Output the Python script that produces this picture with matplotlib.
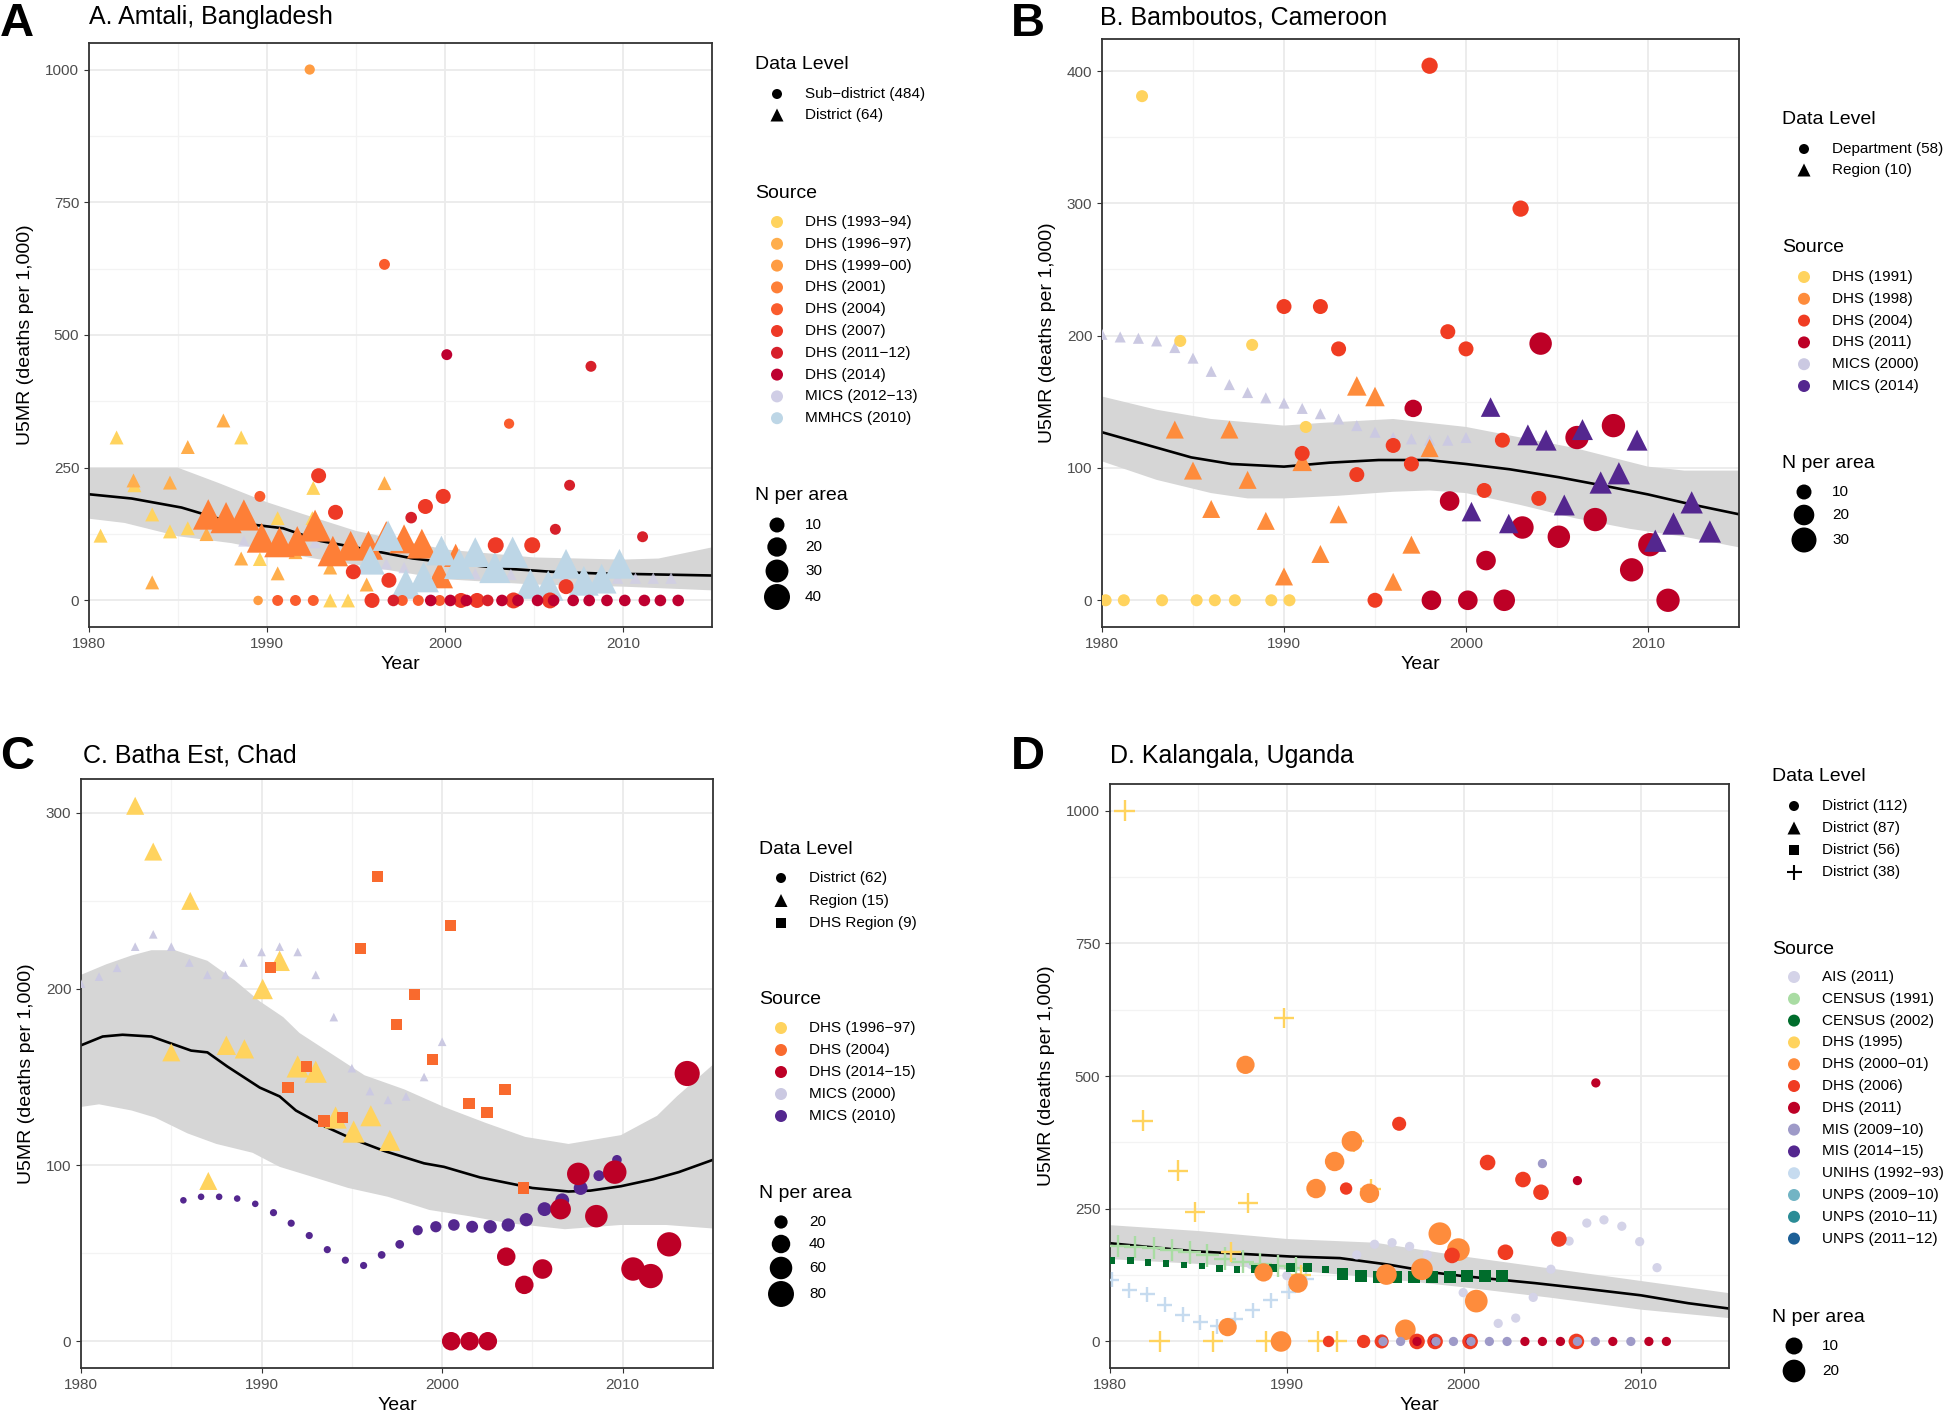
import matplotlib
matplotlib.use("Agg")
import matplotlib.pyplot as plt
import numpy as np

plt.rcParams["font.family"] = ["Liberation Sans", "DejaVu Sans"]

W, H, DPI = 1945, 1414, 100
D = "\u2212"  # R draws the "-" in "1993-94" as a long dash

# ------------------------------------------------------------------
# data: every point is (year, U5MR, N per area)
# ------------------------------------------------------------------

# A. Amtali, Bangladesh
A_DHS9394_TRI = [(1980.65, 122, 4), (1981.55, 307, 4), (1982.55, 217, 4), (1983.55, 162, 4),
                 (1984.55, 130, 4), (1985.55, 136, 4), (1988.55, 307, 4), (1989.6, 78, 4),
                 (1990.6, 155, 4), (1992.6, 212, 4), (1992.55, 155, 4), (1993.55, 0, 4),
                 (1994.55, 0, 4)]
A_DHS9697_TRI = [(1982.5, 226, 4), (1983.55, 34, 4), (1984.55, 222, 4), (1985.55, 289, 4),
                 (1986.6, 125, 4), (1987.55, 339, 4), (1988.55, 79, 4), (1990.6, 51, 4),
                 (1991.6, 91, 4), (1993.55, 62, 4), (1995.6, 30, 4), (1996.6, 221, 4)]
A_MICS_TRI = [(1988.7, 112, 1), (1989.7, 117, 1), (1990.7, 117, 1), (1991.7, 117, 1),
              (1992.7, 109, 1), (1993.7, 103, 1), (1994.7, 96, 1), (1996.7, 69, 1),
              (1997.7, 62, 1), (1999.7, 55, 1), (2001.7, 50, 1), (2003.7, 49, 1),
              (2006.7, 44, 1), (2009.7, 42, 1), (2010.7, 42, 1), (2011.7, 42, 1), (2012.7, 42, 1)]
A_DHS2001_TRI = [(1986.7, 162, 38), (1987.7, 156, 40), (1988.7, 161, 40), (1989.7, 118, 36),
                 (1990.7, 110, 38), (1991.7, 112, 36), (1992.7, 141, 42), (1993.7, 93, 38),
                 (1994.7, 103, 36), (1995.7, 104, 34), (1996.7, 122, 34), (1997.7, 116, 34),
                 (1998.7, 107, 36), (1999.7, 48, 28), (2000.6, 85, 20)]
A_MMHCS_TRI = [(1995.8, 76, 34), (1996.8, 122, 38), (1997.8, 31, 36), (1998.8, 44, 38),
               (1999.8, 94, 36), (2000.8, 69, 38), (2001.7, 91, 36), (2002.8, 62, 40),
               (2003.8, 91, 40), (2004.8, 31, 36), (2005.8, 28, 38), (2006.8, 69, 36),
               (2007.8, 37, 36), (2008.8, 41, 36), (2009.8, 69, 36)]
A_DHS9900_CIR = [(1992.4, 1000, 2), (1989.5, 0, 1)]
A_DHS2004_CIR = [(1996.6, 633, 3), (2003.6, 333, 2), (1989.6, 196, 3), (1990.6, 0, 3),
                 (1991.6, 0, 3), (1992.6, 0, 3), (1997.6, 0, 3), (1998.5, 0, 3), (1999.7, 0, 3)]
A_DHS2007_CIR = [(1992.9, 235, 10), (1993.85, 166, 10), (1994.85, 54, 10), (1996.85, 38, 10),
                 (1998.9, 177, 10), (1999.9, 196, 10), (2002.85, 104, 12), (2004.9, 104, 12),
                 (2006.8, 26, 10), (1995.9, 0, 10), (2000.9, 0, 10), (2001.8, 0, 10),
                 (2003.85, 0, 12), (2005.9, 0, 12)]
A_DHS1112_CIR = [(2008.2, 441, 3), (2007.0, 217, 3), (2011.1, 120, 3), (2006.2, 134, 3),
                 (1998.1, 156, 4), (1997.1, 0, 4), (2002.4, 0, 4)]
A_DHS2014_CIR = [(2000.1, 463, 3), (1999.2, 0, 4), (2000.3, 0, 4), (2001.2, 0, 4),
                 (2003.2, 0, 4), (2004.1, 0, 4), (2005.2, 0, 4), (2006.1, 0, 4), (2007.2, 0, 4),
                 (2008.1, 0, 4), (2009.1, 0, 4), (2010.1, 0, 4), (2011.2, 0, 4), (2012.1, 0, 4),
                 (2013.1, 0, 4)]
A_FIT_YEAR = [1980, 1982.4, 1985.2, 1987.3, 1989.4, 1990.9, 1993, 1995.6, 1998.2, 2000.8,
              2003.4, 2006, 2008.5, 2011.1, 2015]
A_FIT = [200, 192, 175, 154, 142, 136, 112, 96, 79, 69, 60, 54, 51, 49.5, 47]
A_UP_YEAR = [1980, 1985, 1987.3, 1990, 1992, 1995, 2000, 2005, 2010, 2012, 2015]
A_UP = [250, 250, 221, 185, 163, 131, 96, 81, 77, 79, 100]
A_LO_YEAR = [1980, 1982, 1985, 1988, 1990, 1993, 1995, 2000, 2005, 2010, 2015]
A_LO = [154, 146, 121, 108, 95, 77, 67, 40, 30, 26, 19]
A_LEVELS = [f"Sub{D}district (484)", "District (64)"]
A_SOURCES = [f"DHS (1993{D}94)", f"DHS (1996{D}97)", f"DHS (1999{D}00)", "DHS (2001)",
             "DHS (2004)", "DHS (2007)", f"DHS (2011{D}12)", "DHS (2014)",
             f"MICS (2012{D}13)", "MMHCS (2010)"]
A_N = [10, 20, 30, 40]

# B. Bamboutos, Cameroon
B_DHS1991_CIR = [(1980.2, 0, 6), (1981.2, 0, 6), (1983.3, 0, 6), (1985.2, 0, 6), (1986.2, 0, 6),
                 (1987.3, 0, 6), (1989.3, 0, 6), (1990.3, 0, 6), (1982.2, 381, 6),
                 (1984.3, 196, 6), (1988.25, 193, 6), (1991.2, 131, 6)]
B_MICS2000_TRI = [(1980, 201, 3), (1981, 199, 3), (1982, 198, 3), (1983, 196, 3), (1984, 191, 3),
                  (1985, 183, 3), (1986, 173, 3), (1987, 163, 3), (1988, 157, 3), (1989, 153, 3),
                  (1990, 149, 3), (1991, 145, 3), (1992, 141, 3), (1993, 137, 3), (1994, 132, 3),
                  (1995, 127, 3), (1996, 123, 3), (1997, 122, 3), (1998, 121, 3), (1999, 121, 3),
                  (2000, 123, 3)]
B_DHS1998_TRI = [(1984.0, 129, 10), (1985.0, 98, 10), (1986.0, 69, 10), (1987.0, 129, 10),
                 (1988.0, 91, 10), (1989.0, 60, 10), (1990.0, 18, 10), (1991.0, 105, 12),
                 (1992.0, 35, 10), (1993.0, 65, 10), (1994.0, 162, 12), (1995.0, 154, 12),
                 (1996.0, 14, 10), (1997.0, 42, 10), (1998.0, 115, 10)]
B_DHS2004_CIR = [(1990.0, 222, 10), (1991.0, 111, 10), (1992.0, 222, 10), (1993.0, 190, 10),
                 (1994.0, 95, 10), (1995.0, 0, 10), (1996.0, 117, 10), (1997.0, 103, 10),
                 (1998.0, 404, 12), (1999.0, 203, 10), (2000.0, 190, 10), (2001.0, 83, 10),
                 (2002.0, 121, 10), (2003.0, 296, 12), (2004.0, 77, 10)]
B_DHS2011_CIR = [(1997.1, 145, 14), (1998.1, 0, 18), (1999.1, 75, 18), (2000.1, 0, 18),
                 (2001.1, 30, 18), (2002.1, 0, 22), (2003.1, 55, 24), (2004.1, 194, 24),
                 (2005.1, 48, 24), (2006.1, 123, 26), (2007.1, 61, 26), (2008.1, 132, 26),
                 (2009.1, 23, 26), (2010.1, 42, 26), (2011.1, 0, 26)]
B_MICS2014_TRI = [(2000.3, 67, 12), (2001.35, 146, 12), (2002.35, 58, 12), (2003.4, 125, 14),
                  (2004.4, 121, 14), (2005.4, 72, 14), (2006.4, 129, 14), (2007.4, 89, 16),
                  (2008.4, 96, 16), (2009.4, 121, 14), (2010.4, 45, 16), (2011.4, 58, 16),
                  (2012.4, 74, 16), (2013.4, 52, 16)]
B_FIT_YEAR = [1980, 1984.9, 1987.1, 1990, 1992.5, 1995.2, 1997.9, 2000, 2002.4, 2005.1,
              2007.8, 2010, 2012.2, 2015]
B_FIT = [127, 108, 103, 101, 104, 106, 106, 103, 99, 93, 86, 80, 73, 65]
B_UP_YEAR = [1980, 1983, 1986, 1990, 1992, 1996, 1998, 2000, 2003, 2006, 2008, 2010, 2012, 2015]
B_UP = [154, 144, 137, 132, 134, 137, 134, 131, 123, 115, 108, 101, 98, 98]
B_LO_YEAR = [1980, 1983, 1986, 1988, 1990, 1993, 1996, 1998, 2000, 2003, 2006, 2009, 2012, 2015]
B_LO = [105, 91, 81, 77, 77, 79, 82, 83, 81, 72, 62, 54, 48, 40]
B_LEVELS = ["Department (58)", "Region (10)"]
B_SOURCES = ["DHS (1991)", "DHS (1998)", "DHS (2004)", "DHS (2011)", "MICS (2000)", "MICS (2014)"]
B_N = [10, 20, 30]

# C. Batha Est, Chad
C_MICS2000_TRI = [(1980, 203, 5), (1981, 207, 5), (1982, 212, 5), (1983, 224, 5), (1984, 231, 5),
                  (1985, 224, 5), (1986, 215, 5), (1987, 208, 5), (1988, 208, 5), (1989, 215, 5),
                  (1990, 221, 5), (1991, 224, 5), (1992, 221, 5), (1993, 208, 5), (1994, 184, 5),
                  (1995, 155, 5), (1996, 142, 5), (1997, 137, 5), (1998, 139, 5), (1999, 150, 5),
                  (2000, 170, 5)]
C_DHS9697_TRI = [(1983.0, 304, 26), (1984.0, 278, 26), (1985.0, 164, 26), (1986.05, 250, 26),
                 (1987.05, 91, 26), (1988.05, 168, 30), (1989.05, 166, 30), (1990.06, 200, 34),
                 (1991.0, 216, 34), (1992.0, 156, 40), (1993.0, 153, 40), (1994.1, 127, 40),
                 (1995.1, 119, 40), (1996.05, 128, 36), (1997.1, 114, 36)]
C_DHS2004_SQ = [(1990.48, 212, 20), (1991.46, 144, 20), (1992.48, 156, 20), (1993.46, 125, 20),
                (1994.47, 127, 20), (1995.46, 223, 20), (1996.43, 264, 20), (1997.47, 180, 20),
                (1998.47, 197, 20), (1999.47, 160, 20), (2000.46, 236, 20), (2001.48, 135, 20),
                (2002.48, 130, 20), (2003.48, 143, 20), (2004.49, 87, 20)]
C_MICS2010_CIR = [(1985.67, 80, 4), (1986.65, 82, 4), (1987.65, 82, 4), (1988.65, 81, 4),
                  (1989.65, 78, 4), (1990.66, 73, 5), (1991.64, 67, 5), (1992.64, 60, 5),
                  (1993.64, 52, 5), (1994.64, 46, 5), (1995.65, 43, 5), (1996.65, 49, 6),
                  (1997.65, 55, 8), (1998.65, 63, 11), (1999.65, 65, 14), (2000.65, 66, 15),
                  (2001.66, 65, 16), (2002.66, 65, 20), (2003.66, 66, 20), (2004.66, 69, 20),
                  (2005.67, 75, 22), (2006.65, 80, 22), (2007.67, 87, 22), (2008.68, 94, 13),
                  (2009.68, 103, 10)]
C_DHS1415_CIR = [(2000.5, 0, 40), (2001.52, 0, 40), (2002.53, 0, 40), (2003.55, 48, 40),
                 (2004.55, 32, 40), (2005.56, 41, 45), (2006.56, 75, 50), (2007.54, 95, 60),
                 (2008.54, 71, 60), (2009.56, 96, 65), (2010.57, 41, 65), (2011.55, 37, 70),
                 (2012.57, 55, 70), (2013.57, 152, 75)]
C_FIT_YEAR = [1980, 1981.2, 1982.3, 1983.9, 1985, 1986.1, 1987, 1988.1, 1989.9, 1991, 1991.9,
              1993.5, 1995, 1996.8, 1999, 2000.1, 2002.1, 2005, 2007, 2008.2, 2009.9, 2011.7,
              2013.1, 2015]
C_FIT = [168, 173, 174, 173, 169, 165, 164, 156, 144, 139, 131, 122, 115, 108, 101, 99, 93,
         87, 85, 85.5, 88, 92, 96, 103]
C_UP_YEAR = [1980, 1981.4, 1982.8, 1983.9, 1985.2, 1987, 1988.5, 1989.9, 1991.2, 1992.1, 1993.9,
             1995.7, 1997.9, 2000.1, 2002.4, 2004.6, 2007, 2009.9, 2011.9, 2013, 2015]
C_UP = [208, 214, 219, 222, 222, 216, 205, 193, 184, 175, 163, 151, 143, 133, 124, 116, 112,
        117, 128, 139, 157]
C_LO_YEAR = [1980, 1981, 1982.8, 1984.1, 1985.9, 1987.5, 1989.5, 1991, 1992.6, 1994.8, 1997,
             1999.3, 2001.5, 2003.7, 2006.8, 2009.9, 2012.4, 2015]
C_LO = [133, 134.5, 131, 127, 118, 112, 107, 99, 94, 87, 82, 74.5, 71, 67, 63.6, 66, 66, 64]
C_LEVELS = ["District (62)", "Region (15)", "DHS Region (9)"]
C_SOURCES = [f"DHS (1996{D}97)", "DHS (2004)", f"DHS (2014{D}15)", "MICS (2000)", "MICS (2010)"]
C_N = [20, 40, 60, 80]

# D. Kalangala, Uganda
D_AIS2011_CIR = [(1987.97, 145, 1), (1990.0, 124, 1), (1993.95, 163, 1), (1994.96, 183, 1),
                 (1995.95, 186, 1), (1996.94, 179, 1), (1997.94, 163, 1), (1999.97, 92, 1),
                 (2001.95, 34, 1), (2002.94, 44, 1), (2003.93, 83, 1), (2004.93, 136, 1),
                 (2005.96, 189, 1), (2006.96, 223, 1), (2007.93, 229, 1), (2008.94, 217, 1),
                 (2009.95, 188, 1), (2010.93, 139, 1)]
D_CENSUS1991_CROSS = [(1980.47, 180, 8), (1981.43, 178, 8), (1982.47, 176, 8), (1983.49, 172, 8),
                      (1984.5, 168, 8), (1985.5, 162, 8), (1986.5, 156, 8), (1987.5, 150, 8),
                      (1988.5, 146, 8), (1989.5, 142, 8), (1990.5, 138, 8)]
D_UNIHS_CROSS = [(1980.1, 116, 2), (1981.1, 96, 2), (1982.1, 89, 2), (1983.1, 69, 2),
                 (1984.1, 50, 2), (1985.1, 36, 2), (1986.06, 29, 2), (1987.07, 42, 2),
                 (1988.08, 59, 2), (1989.1, 78, 2), (1990.1, 94, 2), (1991.1, 117, 2)]
D_CENSUS2002_SQ = [(1980.12, 153, 0), (1981.16, 152, 0), (1982.15, 149, 0), (1983.17, 147, 0),
                   (1984.18, 144, 0), (1985.2, 142, 0), (1986.2, 138, 0), (1987.18, 136, 0),
                   (1988.2, 137, 1), (1989.2, 138, 1), (1990.2, 139, 2), (1991.17, 139, 2),
                   (1992.2, 136, 0), (1993.16, 127, 5), (1994.17, 123, 6), (1995.19, 122, 6),
                   (1996.2, 122, 6), (1997.2, 122, 6), (1998.18, 122, 6), (1999.2, 122, 6),
                   (2000.19, 123, 6), (2001.2, 123, 6), (2002.18, 124, 6)]
D_DHS1995_CROSS = [(1980.82, 1000, 6), (1989.84, 609, 6), (1981.84, 416, 6), (1983.85, 322, 6),
                   (1984.8, 244, 6), (1987.8, 261, 6), (1986.84, 168, 6), (1993.79, 377, 6),
                   (1994.74, 287, 6), (1990.8, 125, 6), (1982.8, 0, 6), (1985.82, 0, 6),
                   (1988.82, 0, 6), (1991.75, 0, 6), (1992.85, 0, 6)]
D_DHS2000_CIR = [(1987.66, 521, 12), (1992.7, 339, 14), (1991.65, 288, 14), (1993.68, 377, 16),
                 (1994.67, 279, 14), (1998.65, 203, 20), (1999.7, 173, 20), (2000.71, 76, 20),
                 (1996.7, 22, 16), (1997.64, 136, 18), (1995.63, 126, 16), (1988.68, 130, 12),
                 (1990.63, 110, 14), (1986.65, 27, 12), (1989.67, 0, 16)]
D_DHS2006_CIR = [(1996.35, 410, 6), (1993.35, 288, 4), (2001.35, 337, 8), (2003.35, 305, 8),
                 (2004.37, 281, 8), (2005.38, 193, 8), (2002.36, 168, 8), (1999.34, 162, 8),
                 (1992.36, 0, 3), (1994.34, 0, 5), (1995.36, 0, 6), (1997.36, 0, 8),
                 (1998.38, 0, 8), (2000.36, 0, 8), (2006.37, 0, 8)]
D_DHS2011_CIR = [(2007.47, 487, 1), (2006.43, 303, 1), (1997.36, 0, 1), (1998.38, 0, 1),
                 (2000.36, 0, 1), (2003.46, 0, 1), (2004.45, 0, 1), (2005.47, 0, 1),
                 (2008.43, 0, 1), (2010.47, 0, 1), (2011.46, 0, 1)]
D_MIS0910_CIR = [(2004.45, 335, 1), (1995.44, 0, 1), (1996.43, 0, 1), (1998.43, 0, 1),
                 (1999.42, 0, 1), (2000.41, 0, 1), (2001.45, 0, 1), (2002.45, 0, 1),
                 (2006.43, 0, 1), (2007.44, 0, 1), (2009.45, 0, 1)]
D_FIT_YEAR = [1980, 1984.7, 1990.2, 1993, 1995.7, 1998.5, 2000, 2004, 2006.7, 2010, 2012.7, 2015]
D_FIT = [185, 170, 160, 157, 145, 129, 123, 110, 100, 87, 72, 62]
D_BAND_YEAR = [1980, 1985, 1990, 1995, 2000, 2005, 2010, 2015]
D_UP = [219, 208, 193, 186, 160, 137, 114, 91]
D_LO = [155, 146, 135, 120, 102, 82, 60, 44]
D_LEVELS = ["District (112)", "District (87)", "District (56)", "District (38)"]
D_SOURCES = ["AIS (2011)", "CENSUS (1991)", "CENSUS (2002)", "DHS (1995)", f"DHS (2000{D}01)",
             "DHS (2006)", "DHS (2011)", f"MIS (2009{D}10)", f"MIS (2014{D}15)",
             f"UNIHS (1992{D}93)", f"UNPS (2009{D}10)", f"UNPS (2010{D}11)", f"UNPS (2011{D}12)"]
D_N = [10, 20]

# ------------------------------------------------------------------
# styling
# ------------------------------------------------------------------
A_COL = ["#FFD35E", "#FFAE4C", "#FF9C42", "#FE7F37", "#FA5C2D", "#EE3926", "#D7202A",
         "#BE0030", "#D0CEE6", "#BDD6E6"]
B_COL = ["#FFD35E", "#FE8C3C", "#F03C22", "#BD0026", "#CBC9E2", "#54278F"]
C_COL = ["#FFD35E", "#F96A2E", "#BD0026", "#CBC9E2", "#54278F"]
D_COL = ["#D4D3E8", "#A9DCA3", "#006D2C", "#FFD35E", "#FE8C3C", "#F03C22", "#BD0026",
         "#9E9AC8", "#54278F", "#C6DBEF", "#72B4C4", "#2B8C96", "#1C5F96"]

SHAPE_K = {"o": 1.0, "^": 1.2, "s": 0.85, "+": 1.45}


def msize(n, ab, shape):
    # ggplot-like area scale: diameter^2 (px) grows linearly with N
    d = SHAPE_K[shape] * np.sqrt(ab[0] + ab[1] * n)
    return (d * 72 / DPI) ** 2


fig = plt.figure(figsize=(W / DPI, H / DPI), dpi=DPI)
fig.patch.set_facecolor("white")


def panel(box, ylim, yticks, ymin, series, fit, up, lo, ab):
    l, r, t, b = box
    ax = fig.add_axes([l / W, 1 - b / H, (r - l) / W, (b - t) / H])
    ax.set_xlim(1980, 2015)
    ax.set_ylim(*ylim)
    ax.set_xticks([1980, 1990, 2000, 2010])
    ax.set_xticks([1985, 1995, 2005, 2015], minor=True)
    ax.set_yticks(yticks)
    ax.set_yticks(ymin, minor=True)
    ax.grid(which="major", color="#EBEBEB", lw=1.3)
    ax.grid(which="minor", color="#F3F3F3", lw=0.9)
    ax.set_axisbelow(True)
    ax.tick_params(which="major", length=3.5, width=0.8, color="#333333",
                   labelcolor="#4D4D4D", labelsize=11)
    ax.tick_params(which="minor", length=0)
    for s in ax.spines.values():
        s.set_color("#333333")
        s.set_linewidth(1.3)
    ax.set_xlabel("Year", fontsize=14, labelpad=4)
    ax.set_ylabel("U5MR (deaths per 1,000)", fontsize=14, labelpad=8)

    ax.fill(list(up[0]) + list(lo[0])[::-1], list(up[1]) + list(lo[1])[::-1],
            color="#D6D6D6", lw=0, zorder=1)
    ax.plot(fit[0], fit[1], color="black", lw=1.9, zorder=2)
    for pts, shape, color, alpha in series:
        xs = [p[0] for p in pts]
        ys = [p[1] for p in pts]
        ss = [msize(p[2], ab, shape) for p in pts]
        if shape == "+":
            ax.scatter(xs, ys, s=ss, marker="+", c=color, linewidths=1.7, alpha=alpha, zorder=3)
        else:
            ax.scatter(xs, ys, s=ss, marker=shape, c=color, edgecolors="none",
                       alpha=alpha, zorder=3)
    return ax


ax_a = panel((89, 712, 43, 627), (-50, 1050), [0, 250, 500, 750, 1000], [125, 375, 625, 875],
             [(A_DHS9394_TRI, "^", A_COL[0], 1), (A_DHS9697_TRI, "^", A_COL[1], 1),
              (A_MICS_TRI, "^", A_COL[8], 0.8), (A_DHS2001_TRI, "^", A_COL[3], 1),
              (A_MMHCS_TRI, "^", A_COL[9], 1), (A_DHS9900_CIR, "o", A_COL[2], 1),
              (A_DHS2004_CIR, "o", A_COL[4], 1), (A_DHS2007_CIR, "o", A_COL[5], 1),
              (A_DHS1112_CIR, "o", A_COL[6], 1), (A_DHS2014_CIR, "o", A_COL[7], 1)],
             (A_FIT_YEAR, A_FIT), (A_UP_YEAR, A_UP), (A_LO_YEAR, A_LO), (75, 15))

ax_b = panel((1102, 1739, 39, 627), (-20.2, 424.2), [0, 100, 200, 300, 400], [50, 150, 250, 350],
             [(B_MICS2000_TRI, "^", B_COL[4], 1), (B_DHS1991_CIR, "o", B_COL[0], 1),
              (B_DHS1998_TRI, "^", B_COL[1], 1), (B_DHS2004_CIR, "o", B_COL[2], 1),
              (B_DHS2011_CIR, "o", B_COL[3], 1), (B_MICS2014_TRI, "^", B_COL[5], 1)],
             (B_FIT_YEAR, B_FIT), (B_UP_YEAR, B_UP), (B_LO_YEAR, B_LO), (25, 20))

ax_c = panel((81, 713, 779, 1368), (-15.2, 319.2), [0, 100, 200, 300], [50, 150, 250],
             [(C_MICS2000_TRI, "^", C_COL[3], 1), (C_DHS9697_TRI, "^", C_COL[0], 1),
              (C_DHS2004_SQ, "s", C_COL[1], 1), (C_MICS2010_CIR, "o", C_COL[4], 1),
              (C_DHS1415_CIR, "o", C_COL[2], 1)],
             (C_FIT_YEAR, C_FIT), (C_UP_YEAR, C_UP), (C_LO_YEAR, C_LO), (10, 8.3))

ax_d = panel((1110, 1729, 784, 1368), (-50, 1050), [0, 250, 500, 750, 1000], [125, 375, 625, 875],
             [(D_AIS2011_CIR, "o", D_COL[0], 1), (D_CENSUS1991_CROSS, "+", D_COL[1], 1),
              (D_UNIHS_CROSS, "+", D_COL[9], 1), (D_CENSUS2002_SQ, "s", D_COL[2], 1),
              (D_DHS1995_CROSS, "+", D_COL[3], 1), (D_DHS2000_CIR, "o", D_COL[4], 1),
              (D_DHS2006_CIR, "o", D_COL[5], 1), (D_DHS2011_CIR, "o", D_COL[6], 1),
              (D_MIS0910_CIR, "o", D_COL[7], 1)],
             (D_FIT_YEAR, D_FIT), (D_BAND_YEAR, D_UP), (D_BAND_YEAR, D_LO), (63, 22.6))

# overlay in pixel coordinates (y downwards) for letters, titles and legends
ov = fig.add_axes([0, 0, 1, 1])
ov.set_xlim(0, W)
ov.set_ylim(H, 0)
ov.axis("off")

for x, y, letter in [(0, 36, "A"), (1011, 36, "B"), (0, 769, "C"), (1011, 769, "D")]:
    ov.text(x, y, letter, fontsize=34, fontweight="bold", va="baseline")
for x, y, title in [(89, 24, "A. Amtali, Bangladesh"), (1100, 24, "B. Bamboutos, Cameroon"),
                    (83, 763, "C. Batha Est, Chad"), (1110, 763, "D. Kalangala, Uganda")]:
    ov.text(x, y, title, fontsize=18, va="baseline")

LEVEL_SHAPES = ["o", "^", "s", "+"]
LEVEL_PX = {"o": 10, "^": 13, "s": 10, "+": 15}


def legend(x0, lev_t, lev_y0, lev_dy, levels, src_t, src_y0, src_dy, sources, colors,
           n_t, n_ys, ns, ab):
    kx, tx = x0 + 22, x0 + 50
    ov.text(x0, lev_t, "Data Level", fontsize=14, va="center")
    for i, lab in enumerate(levels):
        y = lev_y0 + i * lev_dy
        sh = LEVEL_SHAPES[i]
        s = (LEVEL_PX[sh] * 0.72) ** 2
        if sh == "+":
            ov.scatter(kx, y, s=s, marker="+", c="black", linewidths=1.5, clip_on=False)
        else:
            ov.scatter(kx, y, s=s, marker=sh, c="black", edgecolors="none", clip_on=False)
        ov.text(tx, y, lab, fontsize=11, va="center")
    ov.text(x0, src_t, "Source", fontsize=14, va="center")
    for i, (lab, col) in enumerate(zip(sources, colors)):
        y = src_y0 + i * src_dy
        ov.scatter(kx, y, s=(12 * 0.72) ** 2, marker="o", c=col, edgecolors="none", clip_on=False)
        ov.text(tx, y, lab, fontsize=11, va="center")
    ov.text(x0, n_t, "N per area", fontsize=14, va="center")
    for y, n in zip(n_ys, ns):
        ov.scatter(kx, y, s=msize(n, ab, "o"), marker="o", c="black", edgecolors="none",
                   clip_on=False)
        ov.text(tx, y, str(n), fontsize=11, va="center")


legend(755, 64.5, 94, 21, A_LEVELS, 193.5, 222, 21.8, A_SOURCES, A_COL,
       496, [525, 547, 571, 597], A_N, (75, 15))
legend(1782, 119, 149, 21, B_LEVELS, 248, 277, 21.8, B_SOURCES, B_COL,
       464, [492, 515, 540], B_N, (25, 20))
legend(759, 850, 878, 22.5, C_LEVELS, 1000, 1028, 22, C_SOURCES, C_COL,
       1193, [1222, 1244, 1268, 1294], C_N, (10, 8.3))
legend(1772, 776.5, 806, 22, D_LEVELS, 949, 977, 21.8, D_SOURCES, D_COL,
       1317, [1346, 1371], D_N, (63, 22.6))

fig.savefig("out.png", dpi=DPI)
